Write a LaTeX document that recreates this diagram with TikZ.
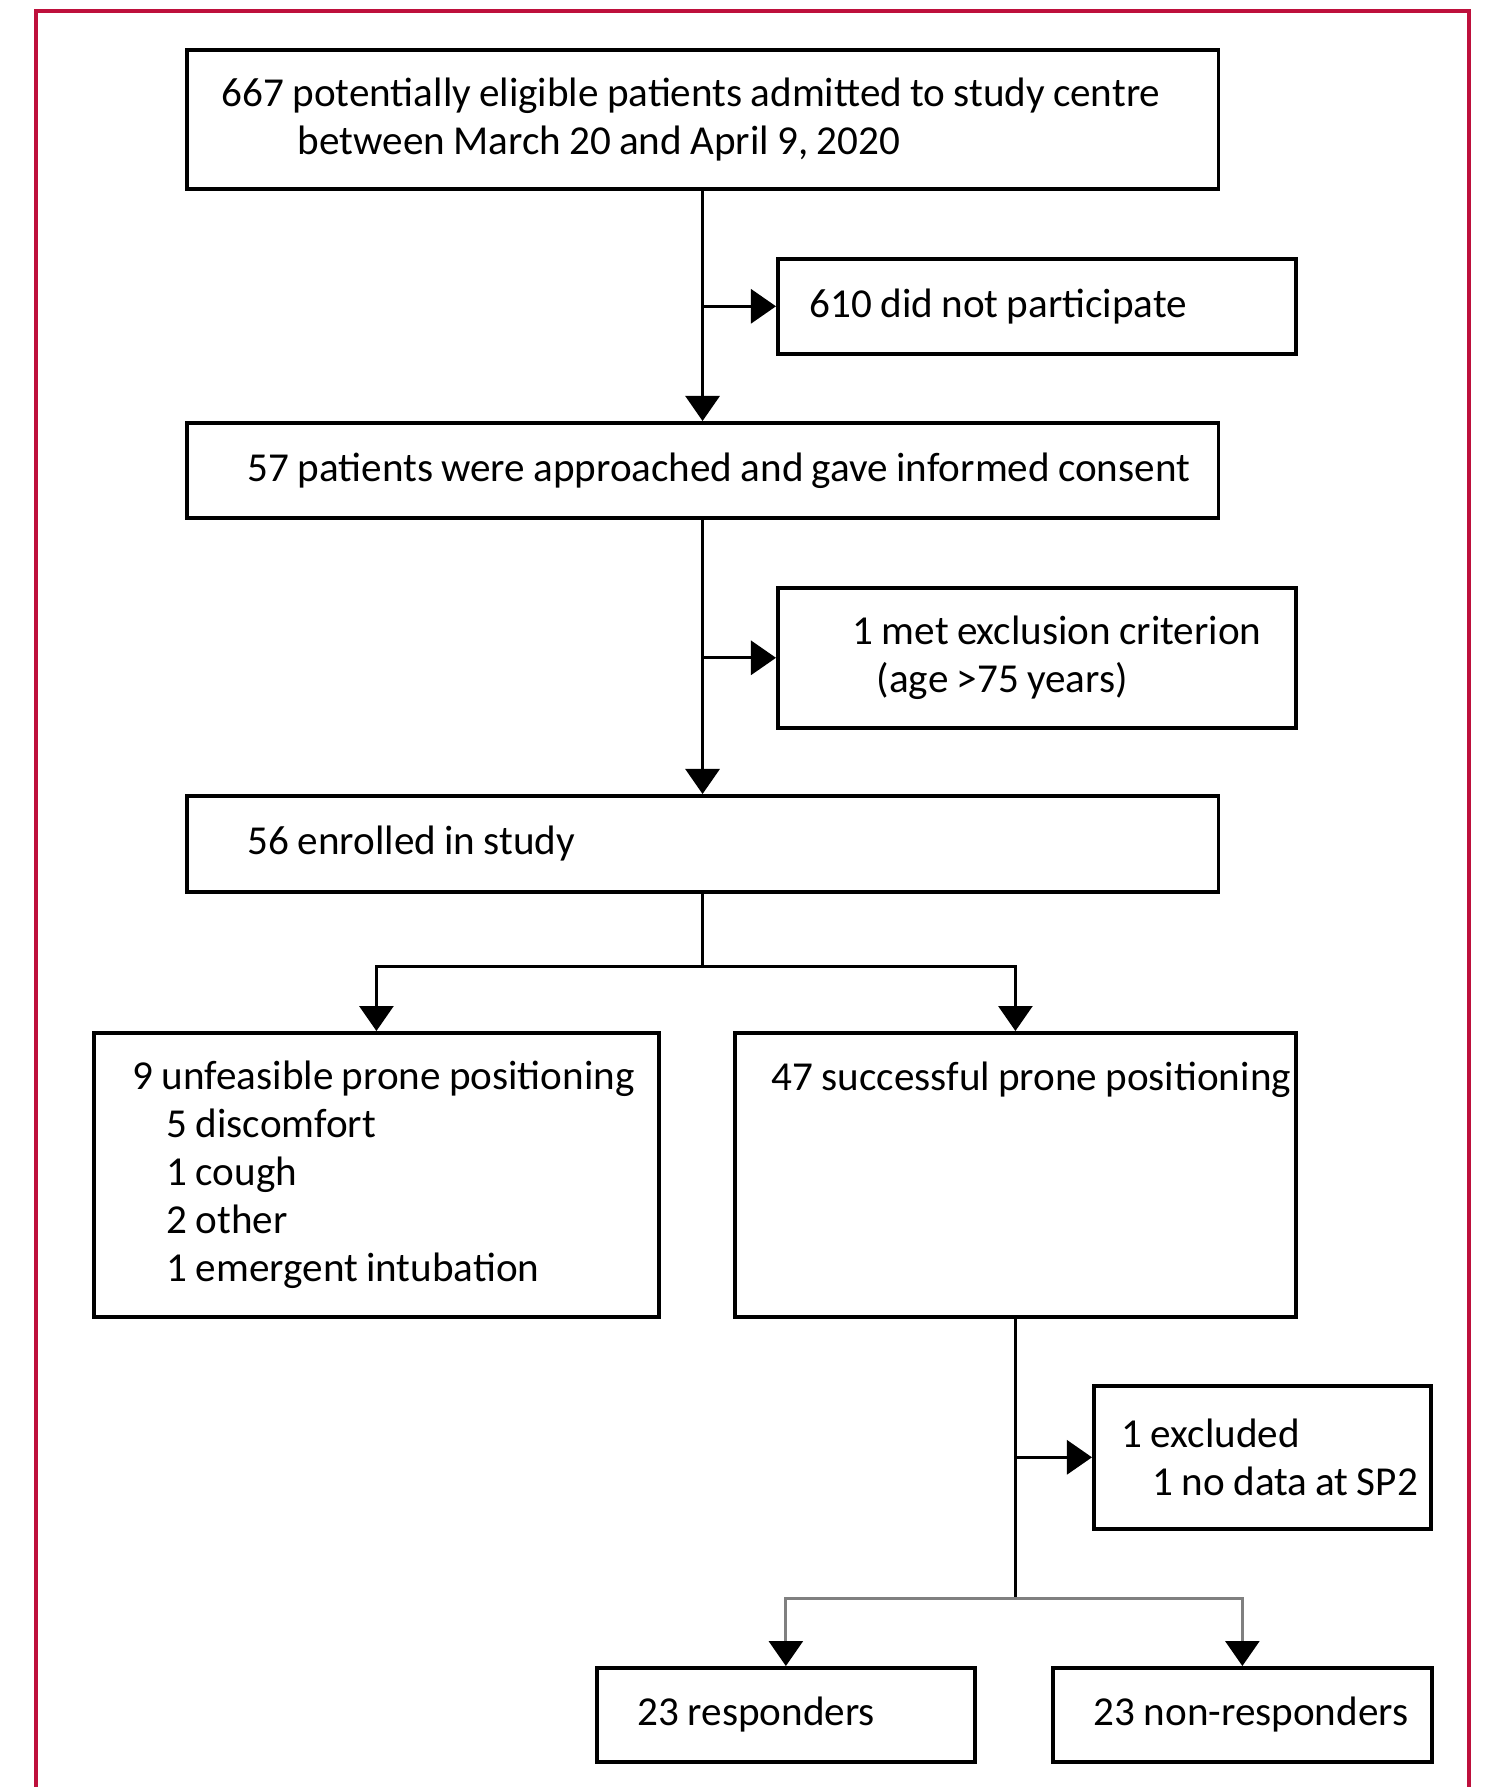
\documentclass[tikz,border=0pt]{standalone}
\usepackage{fontspec}
\setmainfont{Carlito}
\usepackage{tikz}
\usetikzlibrary{arrows.meta,positioning}
\definecolor{framered}{RGB}{190,16,60}
\newcommand{\indentby}[1]{\hspace*{#1cm}}
\newcommand{\flowfont}{\fontsize{11.7pt}{13.7pt}\selectfont\setlength{\spaceskip}{0.2em}}
\tikzset{
  flowbox/.style={draw, line width=1pt, inner sep=0pt, align=flush left, anchor=north west,
    font=\flowfont},
  arrow/.style={draw, line width=0.8pt, -{Triangle[length=0.25cm, width=0.34cm]}},
  greyarrow/.style={draw=gray, line width=0.8pt, -{Triangle[length=0.25cm, width=0.34cm, black]}},
}
\begin{document}
\begin{tikzpicture}[x=0.01cm, y=-0.01cm]
         \useasboundingbox (0,0) rectangle (1487,1787);
         % Frame
         \draw[framered, line width=1.2pt] (36,1787) -- (36,11) -- (1469,11) -- (1469,1787);

         % Define boxes
         \node[flowbox, text width=10.31cm, minimum height=1.39cm] (screen) at (185,48)
           {\indentby{0.35}667 potentially eligible patients admitted to study centre\\
            \indentby{1.11}between March 20 and April 9, 2020};
         \node[flowbox, text width=5.18cm, minimum height=0.95cm] (notpart) at (776,257)
           {\indentby{0.32}610 did not participate};
         \node[flowbox, text width=10.31cm, minimum height=0.95cm] (consent) at (185,421)
           {\indentby{0.61}57 patients were approached and gave informed consent};
         \node[flowbox, text width=5.18cm, minimum height=1.40cm] (exclusion) at (776,586)
           {\indentby{0.75}1 met exclusion criterion\\
            \indentby{0.99}(age >75 years)};
         \node[flowbox, text width=10.31cm, minimum height=0.96cm] (enrolled) at (185,794)
           {\indentby{0.61}56 enrolled in study};
         \node[flowbox, text width=5.65cm, minimum height=2.84cm] (unfeasible) at (92,1031)
           {\indentby{0.39}9 unfeasible prone positioning\\
            \indentby{0.73}5 discomfort\\
            \indentby{0.73}1 cough\\
            \indentby{0.73}2 other\\
            \indentby{0.73}1 emergent intubation};
         \node[flowbox, text width=5.61cm, text height=0.58cm, text depth=2.26cm] (success) at (733,1031)
           {\indentby{0.37}47 successful prone positioning};
         \node[flowbox, text width=3.37cm, minimum height=1.43cm] (excluded) at (1092,1384)
           {\indentby{0.28}1 excluded\\
            \indentby{0.59}1 no data at SP2};
         \node[flowbox, text width=3.78cm, minimum height=0.94cm] (resp) at (595,1666)
           {\indentby{0.41}23 responders};
         \node[flowbox, text width=3.79cm, minimum height=0.94cm] (nonresp) at (1051,1666)
           {\indentby{0.41}23 non-responders};

         % Split points
         \coordinate[below=0.73cm of enrolled.south] (split);
         \coordinate[below=2.80cm of success.south] (split2);

         % Draw connectors
         \draw[arrow] (screen.south) -- (consent.north);
         \draw[arrow] (screen.south |- notpart.west) -- (notpart.west);
         \draw[arrow] (consent.south) -- (enrolled.north);
         \draw[arrow] (consent.south |- exclusion.west) -- (exclusion.west);
         \draw[line width=0.8pt] (enrolled.south) -- (split);
         \draw[arrow] (split) -| (unfeasible.north);
         \draw[arrow] (split) -| (success.north);
         \draw[line width=0.8pt] (success.south) -- (split2);
         \draw[arrow] (success.south |- excluded.west) -- (excluded.west);
         \draw[greyarrow] (split2) -| (resp.north);
         \draw[greyarrow] (split2) -| (nonresp.north);
      \end{tikzpicture}
\end{document}
